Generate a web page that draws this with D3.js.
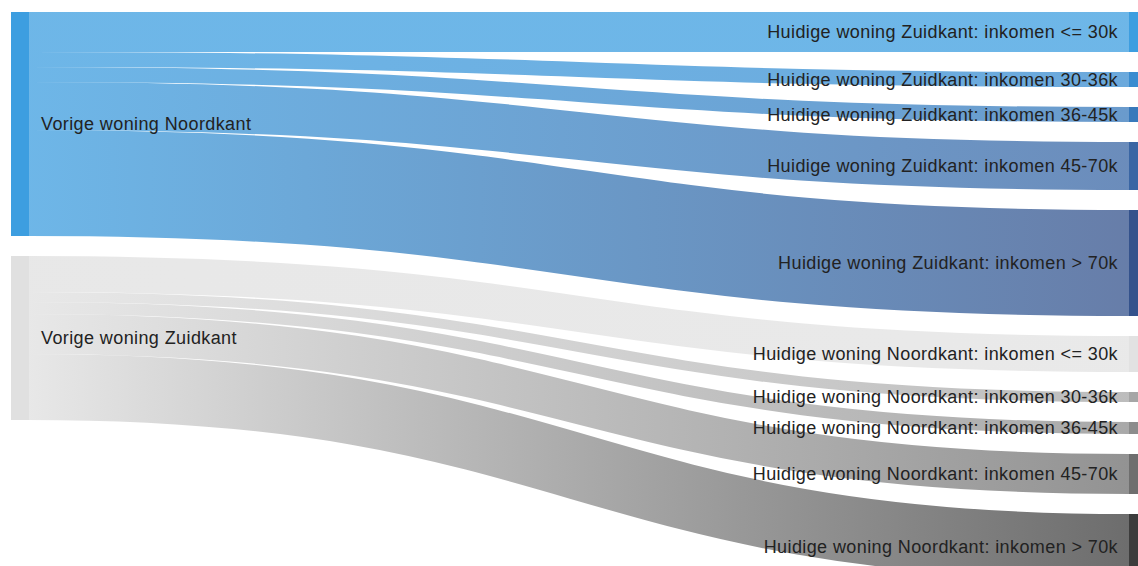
<!DOCTYPE html>
<html>
<head>
<meta charset="utf-8">
<script src="https://cdn.jsdelivr.net/npm/d3@7"></script>
<style>
  html, body { margin: 0; padding: 0; background: #fff; }
  svg { display: block; }
  text { font-family: "Liberation Sans", Arial, sans-serif; font-size: 18px; letter-spacing: 0.4px; fill: #222; }
</style>
</head>
<body>
<svg id="chart" width="1138" height="566"></svg>
<script>
// Households by previous location -> current location and income band
const sources = ["Vorige woning Noordkant", "Vorige woning Zuidkant"];
const incomeBands = ["<= 30k", "30-36k", "36-45k", "45-70k", "> 70k"];
const zuidTargets = incomeBands.map(b => "Huidige woning Zuidkant: inkomen " + b);
const noordTargets = incomeBands.map(b => "Huidige woning Noordkant: inkomen " + b);

// flows from Noordkant to Zuidkant bands, and from Zuidkant to Noordkant bands
const noordToZuid = [40, 15, 15, 48, 106];
const zuidToNoord = [36, 10, 12, 40, 66];

const sourceColors = ["#3d9ee0", "#e0e0e0"];
const zuidColors = ["#3d9ee0", "#3a8cd0", "#3879bb", "#3a66a4", "#34528c"];
const noordColors = ["#e2e2e2", "#a6a6a6", "#8c8c8c", "#6e6e6e", "#3c3c3c"];

// --- build graph ---
const nodes = [];
sources.forEach((name, i) => nodes.push({ name, col: 0, color: sourceColors[i] }));
zuidTargets.forEach((name, i) => nodes.push({ name, col: 1, color: zuidColors[i] }));
noordTargets.forEach((name, i) => nodes.push({ name, col: 1, color: noordColors[i] }));

const links = [];
noordToZuid.forEach((v, i) => links.push({ source: nodes[0], target: nodes[2 + i], value: v }));
zuidToNoord.forEach((v, i) => links.push({ source: nodes[1], target: nodes[7 + i], value: v }));

nodes.forEach(n => {
  n.sourceLinks = links.filter(l => l.source === n);
  n.targetLinks = links.filter(l => l.target === n);
  n.value = Math.max(d3.sum(n.sourceLinks, l => l.value), d3.sum(n.targetLinks, l => l.value));
});

// --- layout ---
const nodeWidth = 18, nodePadding = 20;
const extentTop = 12, extentBottom = 580;
const columns = d3.groups(nodes, n => n.col).map(g => g[1]);
const ky = d3.min(columns, c => (extentBottom - extentTop - (c.length - 1) * nodePadding) / d3.sum(c, n => n.value));
const size = d3.scaleLinear().domain([0, 1]).range([0, ky]);
const x = d3.scaleLinear().domain([0, 1]).range([11, 1129]);

columns.forEach(col => {
  let y = extentTop;
  col.forEach(n => {
    n.x0 = x(n.col);
    n.x1 = n.x0 + nodeWidth;
    n.y0 = y;
    n.y1 = y + size(n.value);
    y = n.y1 + nodePadding;
  });
});
nodes.forEach(n => {
  let ys = n.y0;
  n.sourceLinks.sort((a, b) => a.target.y0 - b.target.y0).forEach(l => {
    l.width = size(l.value);
    l.y0 = ys + l.width / 2; ys += l.width;
  });
  let yt = n.y0;
  n.targetLinks.sort((a, b) => a.source.y0 - b.source.y0).forEach(l => {
    l.y1 = yt + size(l.value) / 2; yt += size(l.value);
  });
});

// --- draw ---
const svg = d3.select("#chart");
const defs = svg.append("defs");

const linkPath = d3.linkHorizontal()
  .source(d => [d.source.x1, d.y0])
  .target(d => [d.target.x0, d.y1]);

links.forEach((l, i) => {
  l.gid = "grad-" + i;
  const g = defs.append("linearGradient")
    .attr("id", l.gid)
    .attr("gradientUnits", "userSpaceOnUse")
    .attr("x1", l.source.x1).attr("x2", l.target.x0)
    .attr("y1", 0).attr("y2", 0);
  g.append("stop").attr("offset", "0%").attr("stop-color", l.source.color);
  g.append("stop").attr("offset", "100%").attr("stop-color", l.target.color);
});

svg.append("g")
  .attr("fill", "none")
  .selectAll("path")
  .data(links)
  .join("path")
  .attr("d", linkPath)
  .attr("stroke", d => `url(#${d.gid})`)
  .attr("stroke-opacity", 0.75)
  .attr("stroke-width", d => Math.max(1, d.width));

svg.append("g")
  .selectAll("rect")
  .data(nodes)
  .join("rect")
  .attr("x", d => d.x0)
  .attr("y", d => d.y0)
  .attr("width", d => d.x1 - d.x0)
  .attr("height", d => d.y1 - d.y0)
  .attr("fill", d => d.color);

svg.append("g")
  .selectAll("text")
  .data(nodes)
  .join("text")
  .attr("x", d => d.col === 0 ? d.x1 + 12 : d.x0 - 11)
  .attr("y", d => (d.y0 + d.y1) / 2)
  .attr("dy", "0.35em")
  .attr("text-anchor", d => d.col === 0 ? "start" : "end")
  .text(d => d.name);
</script>
</body>
</html>
